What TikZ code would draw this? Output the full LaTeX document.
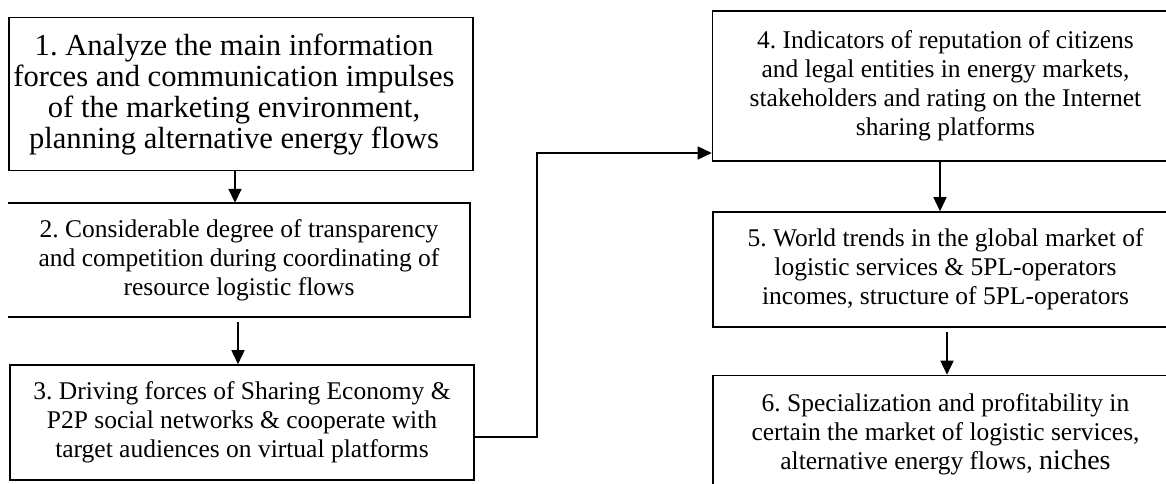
\documentclass[tikz,border=0pt]{standalone}
\usepackage{fontspec}
\setmainfont{Liberation Serif}
\usetikzlibrary{arrows.meta}
\frenchspacing
\begin{document}
\begin{tikzpicture}[x=1pt,y=-1pt,
  frame/.style={draw, line width=1.6pt, inner sep=0pt},
  bigtxt/.style={font=\fontsize{30.6}{31}\selectfont, align=center, inner sep=0pt},
  txt/.style={font=\fontsize{25.5}{29}\selectfont, align=center, inner sep=0pt},
  arr/.style={line width=1.6pt, -{Triangle[width=13pt,length=14pt]}}]
\useasboundingbox (0,0) rectangle (1166,484);
\fill[white] (0,0) rectangle (1166,484);
\clip (0,0) rectangle (1166,484);

% left column
\node[frame, minimum width=464pt, minimum height=153pt] (b1) at (241,94) {};
\node[bigtxt] (t1) at (234,95) {1. Analyze the main information\\forces and communication impulses\\of the marketing environment,\\planning alternative energy flows};

\node[txt, minimum width=462pt, minimum height=114pt] (b2) at (239,260)
  {2. Considerable degree of transparency\\and competition during coordinating of\\resource logistic flows};
\draw[line width=1.6pt] (b2.north west) -- (b2.north east) -- (b2.south east) -- (b2.south west);

\node[frame, txt, minimum width=464pt, minimum height=115pt] (b3) at (242,422.5)
  {3. Driving forces of Sharing Economy \&\\P2P social networks \& cooperate with\\target audiences on virtual platforms};

% right column
\node[frame, txt, minimum width=466pt, minimum height=150pt] (b4) at (945.5,86)
  {4. Indicators of reputation of citizens\\and legal entities in energy markets,\\stakeholders and rating on the Internet\\sharing platforms};

\node[frame, txt, minimum width=465pt, minimum height=115pt] (b5) at (945.5,269.5)
  {5. World trends in the global market of\\logistic services \& 5PL-operators\\incomes, structure of 5PL-operators};

\node[frame, txt, minimum width=465pt, minimum height=117pt] (b6) at (945.5,434)
  {6. Specialization and profitability in\\certain the market of logistic services,\\alternative energy flows, {\fontsize{28}{29}\selectfont niches}};

% connectors
\draw[arr] ([xshift=-6pt]b1.south) -- ([xshift=-6pt]b1.south |- b2.north);
\draw[arr] ([xshift=-1pt,yshift=-5pt]b2.south) -- ([xshift=-1pt]b2.south |- b3.north);
\draw[arr] ([xshift=-5.5pt]b4.south) -- ([xshift=-5.5pt]b4.south |- b5.north);
\draw[arr] ([xshift=1.5pt,yshift=-4pt]b5.south) -- ([xshift=1.5pt]b5.south |- b6.north);

\coordinate (k1) at (537,437);
\coordinate (k2) at (537,153);
\draw[arr] (b3.east |- k1) -- (k1) -- (k2) -- (b4.west |- k2);
\end{tikzpicture}
\end{document}
